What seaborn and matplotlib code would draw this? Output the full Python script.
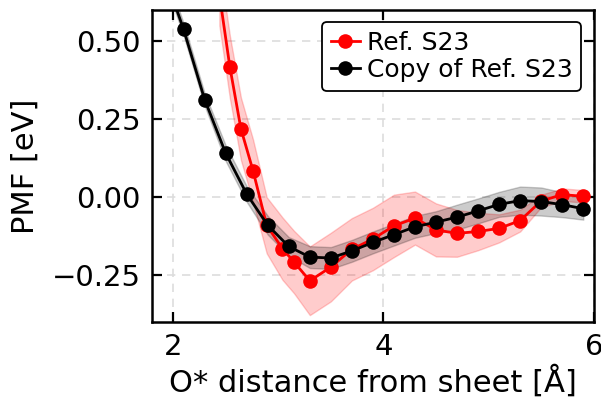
import numpy as np
import pandas as pd
import matplotlib
matplotlib.use("Agg")
import matplotlib.pyplot as plt
import seaborn as sns

# Reference PMF profile (Ref. S23)
ref_x = [2.44, 2.54, 2.645, 2.76, 2.89, 3.04, 3.15, 3.30, 3.50, 3.70, 3.90,
         4.10, 4.30, 4.50, 4.70, 4.90, 5.10, 5.30, 5.50, 5.70, 5.90]
ref_y = [0.65, 0.417, 0.219, 0.085, -0.090, -0.165, -0.208, -0.268, -0.224,
         -0.167, -0.134, -0.092, -0.067, -0.105, -0.116, -0.110, -0.100,
         -0.075, -0.012, 0.008, 0.003]
ref_err = [0.10, 0.10, 0.10, 0.10, 0.09, 0.10, 0.10, 0.11, 0.11, 0.10, 0.10,
           0.10, 0.085, 0.085, 0.075, 0.06, 0.045, 0.035, 0.02, 0.02, 0.02]

# Reproduced PMF profile (Copy of Ref. S23)
copy_x = [1.9, 2.1, 2.3, 2.5, 2.7, 2.9, 3.1, 3.3, 3.5, 3.7, 3.9,
          4.1, 4.3, 4.5, 4.7, 4.9, 5.1, 5.3, 5.5, 5.7, 5.9]
copy_y = [0.73, 0.538, 0.313, 0.141, 0.010, -0.090, -0.158, -0.192, -0.195,
          -0.172, -0.145, -0.120, -0.095, -0.080, -0.064, -0.044, -0.023,
          -0.011, -0.014, -0.024, -0.037]
copy_err = [0.02, 0.02, 0.02, 0.025, 0.025, 0.03, 0.03, 0.035, 0.035, 0.035,
            0.035, 0.035, 0.035, 0.035, 0.04, 0.04, 0.04, 0.045, 0.045, 0.04,
            0.035]

x_ticks = [2, 4, 6]
y_ticks = [-0.25, 0.0, 0.25, 0.5]

plt.rcParams["font.family"] = ["DejaVu Sans"]
plt.rcParams["text.color"] = "black"
plt.rcParams["axes.labelcolor"] = "black"
plt.rcParams["xtick.color"] = "black"
plt.rcParams["ytick.color"] = "black"

fig = plt.figure(figsize=(6.01, 3.98), dpi=100)
ax = fig.add_axes([0.253, 0.191, 0.735, 0.784])

series = [
    ("Ref. S23", ref_x, ref_y, ref_err, "red"),
    ("Copy of Ref. S23", copy_x, copy_y, copy_err, "black"),
]

# shaded uncertainty bands first, lines with markers on top
for label, xs, ys, errs, color in series:
    xs = np.asarray(xs)
    ys = np.asarray(ys)
    errs = np.asarray(errs)
    ax.fill_between(xs, ys - errs, ys + errs, color=color, alpha=0.2, lw=1.0)

for label, xs, ys, errs, color in series:
    df = pd.DataFrame({"x": xs, "y": ys})
    sns.lineplot(data=df, x="x", y="y", ax=ax, color=color, marker="o",
                 markersize=10.5, markeredgewidth=0, lw=2, label=label,
                 sort=False, estimator=None)

ax.set_xlim(1.8, 6.0)
ax.set_ylim(-0.4, 0.6)
ax.set_xticks(x_ticks)
ax.set_yticks(y_ticks)
ax.set_yticklabels([f"{v:.2f}".replace("-", "\u2212") for v in y_ticks])
ax.grid(True, ls=(0, (5, 4)), color="#dddddd", lw=1.2)
ax.set_axisbelow(True)

ax.tick_params(direction="in", length=7, width=1.6, labelsize=21,
               top=True, right=True, pad=8)
for s in ax.spines.values():
    s.set_linewidth(1.8)
    s.set_color("black")

ax.set_xlabel("O* distance from sheet [Å]", fontsize=22, labelpad=3)
ax.set_ylabel("PMF [eV]", fontsize=22, labelpad=9)

leg = ax.legend(loc="upper right", fontsize=18, frameon=True,
                handlelength=1.15, handletextpad=0.28, borderpad=0.35,
                labelspacing=0.12, borderaxespad=0.5)
leg.get_frame().set_edgecolor("black")
leg.get_frame().set_linewidth(1.3)
leg.get_frame().set_alpha(1.0)

fig.savefig("out.png", dpi=100)
